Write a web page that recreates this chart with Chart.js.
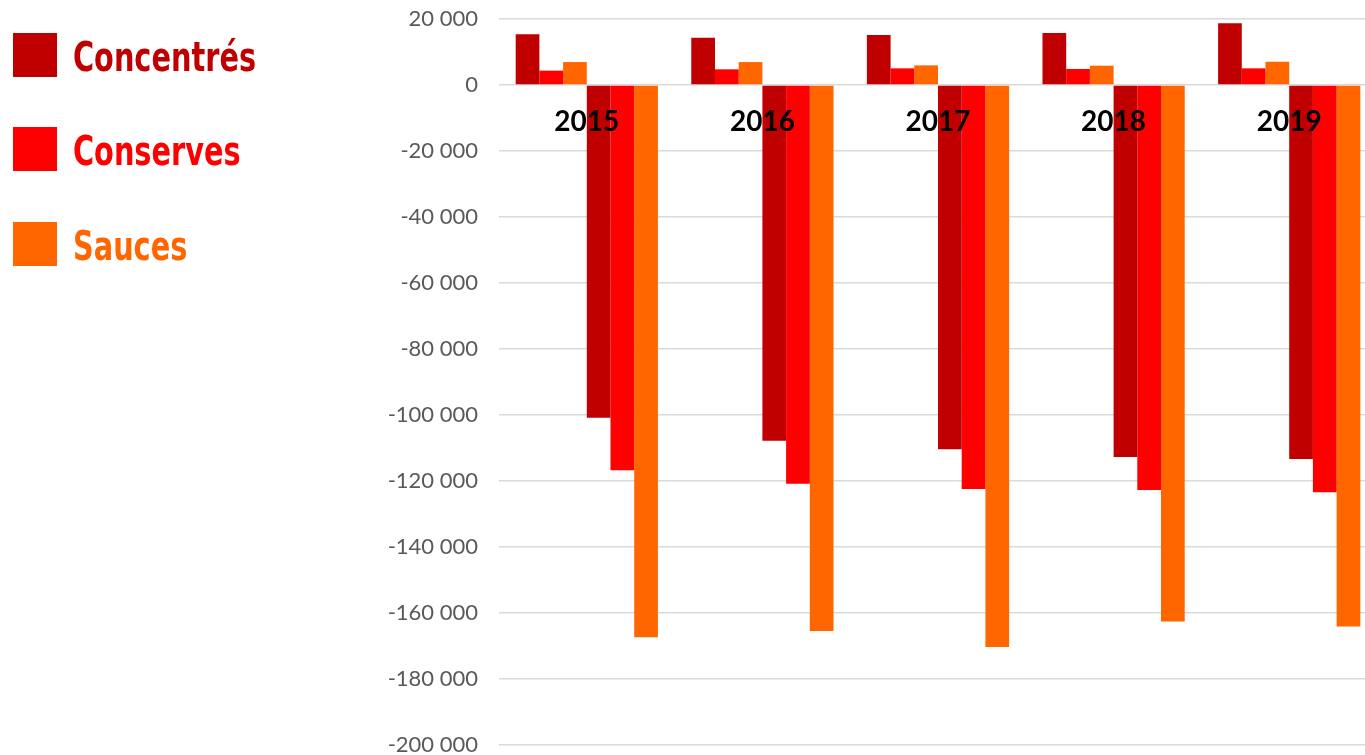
<!DOCTYPE html>
<html>
<head>
<meta charset="utf-8">
<script src="https://cdn.jsdelivr.net/npm/chart.js@4"></script>
<style>
    html, body { margin: 0; padding: 0; background: #fff; overflow: hidden; }
    #wrap { position: relative; width: 1377px; height: 755px; }
    #legend { position: absolute; left: 13px; top: 33px; }
    .item { position: absolute; left: 0; height: 44px; white-space: nowrap; }
    .box { position: absolute; left: 0; top: 0; width: 44px; height: 44px; }
    .label {
        position: absolute; left: 60px; top: -1px;
        font: bold 41px "DejaVu Sans Condensed", "DejaVu Sans", sans-serif;
        line-height: 50px;
        transform: scaleX(0.78); transform-origin: left center;
    }
</style>
</head>
<body>
<div id="wrap">
    <canvas id="tradeChart"></canvas>
    <div id="legend"></div>
</div>
<script>
const years = ['2015', '2016', '2017', '2018', '2019'];
const products = ['Concentrés', 'Conserves', 'Sauces'];
const colors = ['#C00000', '#FF0000', '#FF6600'];

// exports (positive)
const exportConcentres = [15350, 14300, 15150, 15750, 18700];
const exportConserves = [4350, 4750, 5050, 4850, 5050];
const exportSauces = [6950, 6950, 5950, 5850, 7050];

// imports (negative)
const importConcentres = [-100800, -107800, -110400, -112700, -113300];
const importConserves = [-116750, -120800, -122400, -122700, -123400];
const importSauces = [-167350, -165450, -170300, -162600, -164100];

const yTicks = { min: -200000, max: 20000, step: 20000 };

function formatNumber(v) {
    const s = String(Math.abs(v)).replace(/\B(?=(\d{3})+(?!\d))/g, ' ');
    return (v < 0 ? '-' : '') + s;
}

function buildLegend() {
    const legend = document.getElementById('legend');
    products.forEach((name, i) => {
        const item = document.createElement('div');
        item.className = 'item';
        item.style.top = (i === 0 ? 0 : i === 1 ? 94 : 189) + 'px';
        const box = document.createElement('div');
        box.className = 'box';
        box.style.background = colors[i];
        const label = document.createElement('div');
        label.className = 'label';
        label.style.color = colors[i];
        label.textContent = name;
        item.appendChild(box);
        item.appendChild(label);
        legend.appendChild(item);
    });
}

function createChart() {
    const ctx = document.getElementById('tradeChart');
    const series = [exportConcentres, exportConserves, exportSauces, importConcentres, importConserves, importSauces];

    new Chart(ctx, {
        type: 'bar',
        data: {
            labels: years,
            datasets: series.map((values, i) => ({
                label: products[i % 3],
                data: values,
                backgroundColor: colors[i % 3],
                borderWidth: 0,
                categoryPercentage: 0.81,
                barPercentage: 1
            }))
        },
        options: {
            responsive: true,
            maintainAspectRatio: false,
            animation: false,
            layout: { padding: { left: 0, right: 0, top: 19, bottom: 10 } },
            plugins: {
                legend: { display: false },
                tooltip: { enabled: false }
            },
            scales: {
                x: {
                    position: { y: 0 },
                    afterFit: scale => { scale.height = 0; },
                    grid: { display: false },
                    border: { display: false },
                    ticks: {
                        z: 1,
                        color: '#000',
                        padding: 12,
                        font: { family: 'Lato', weight: 'bold', size: 28 }
                    }
                },
                y: {
                    min: yTicks.min,
                    max: yTicks.max,
                    afterFit: scale => {
                        scale.width = 499;
                        scale.paddingTop = 0;
                        scale.paddingBottom = 0;
                    },
                    grid: { color: '#d9d9d9', lineWidth: 1.5, drawTicks: false },
                    border: { display: false },
                    ticks: {
                        stepSize: yTicks.step,
                        padding: 21,
                        color: '#595959',
                        font: { family: 'Lato', size: 22 },
                        callback: v => formatNumber(v)
                    }
                }
            }
        }
    });
}

buildLegend();
createChart();
</script>
</body>
</html>
